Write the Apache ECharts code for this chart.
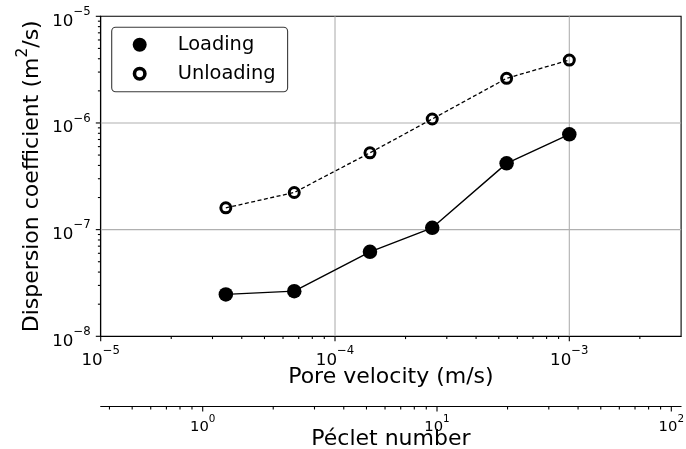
<!DOCTYPE html>
<html><head><meta charset="utf-8">
<script src="https://cdn.jsdelivr.net/npm/echarts@6/dist/echarts.min.js"></script>
<style>html,body{margin:0;padding:0;background:#fff}#c{width:686px;height:449px}</style>
</head><body><div id="c"></div>
<script>
// ---- data ----
const seriesNames = ['Loading', 'Unloading'];
const poreVelocity = [3.42e-5, 6.7e-5, 1.41e-4, 2.6e-4, 5.4e-4, 1.0e-3];   // m/s
const loading = [2.47e-8, 2.65e-8, 6.19e-8, 1.04e-7, 4.18e-7, 7.82e-7];     // m2/s
const unloading = [1.6e-7, 2.23e-7, 5.25e-7, 1.09e-6, 2.62e-6, 3.89e-6];    // m2/s
const velocityRange = [1e-5, 3e-3];
const dispersionRange = [1e-8, 1e-5];
const pecletPerVelocity = 36700;            // Péclet number per (m/s)
const velocityDecades = [1e-5, 1e-4, 1e-3];
const dispersionDecades = [1e-8, 1e-7, 1e-6, 1e-5];
const pecletDecades = [1, 10, 100];
const xTitle = 'Pore velocity (m/s)';
const yTitleParts = ['Dispersion coefficient (m', '2', '/s)'];
const pecletTitle = 'Péclet number';

const pecletRange = velocityRange.map(v => v * pecletPerVelocity);
const FONT = 'DejaVu Sans';
const TITLE_SIZE = 22;

function minorTicks(decades, lo, hi) {
  const out = [];
  [decades[0] / 10, ...decades].forEach(d => {
    for (let k = 2; k <= 9; k++) { const v = k * d; if (v > lo * 1.0001 && v < hi * 0.9999) out.push(v); }
  });
  return out;
}
function inside(vals, lo, hi) { return vals.filter(v => v >= lo * 0.9999 && v <= hi * 1.0001); }

function decadeLabel(v) {
  const l = Math.log10(v), e = Math.round(l);
  if (Math.abs(l - e) > 1e-6) return '';
  return '{b|10}{s|' + (e < 0 ? '\u2212' : '') + Math.abs(e) + '}';
}
function richFor(base, sup, baseLH, supLH) {
  return {
    b: {fontSize: base, fontFamily: FONT, color: '#000', lineHeight: baseLH, verticalAlign: 'bottom'},
    s: {fontSize: sup, fontFamily: FONT, color: '#000', lineHeight: supLH, verticalAlign: 'top'}
  };
}

const PE_OFFSET = 70.4;
function xTickSeries(xIdx, vals, len, off) {
  return {
    type: 'custom', xAxisIndex: xIdx, yAxisIndex: 0, silent: true, clip: false, z: 5,
    data: vals.map(v => [v, dispersionRange[0]]),
    renderItem: (params, api) => {
      const p = api.coord([api.value(0), api.value(1)]);
      return {type: 'line', shape: {x1: p[0], y1: p[1] + off, x2: p[0], y2: p[1] + off + len},
              style: {stroke: '#000', lineWidth: 1.1}};
    }
  };
}
function yTickSeries(vals, len) {
  return {
    type: 'custom', xAxisIndex: 0, yAxisIndex: 0, silent: true, clip: false, z: 5,
    data: vals.map(v => [velocityRange[0], v]),
    renderItem: (params, api) => {
      const p = api.coord([api.value(0), api.value(1)]);
      return {type: 'line', shape: {x1: p[0] - len, y1: p[1], x2: p[0], y2: p[1]},
              style: {stroke: '#000', lineWidth: 1.1}};
    }
  };
}
function gridSeries() {
  const vx = velocityDecades.filter(v => v > velocityRange[0] * 1.0001 && v < velocityRange[1] * 0.9999);
  const vy = dispersionDecades.filter(v => v > dispersionRange[0] * 1.0001 && v < dispersionRange[1] * 0.9999);
  const data = vx.map(v => [v, dispersionRange[0], 0]).concat(vy.map(v => [velocityRange[0], v, 1]));
  return {
    type: 'custom', xAxisIndex: 0, yAxisIndex: 0, silent: true, z: 1,
    data: data,
    renderItem: (params, api) => {
      const isY = api.value(2) === 1;
      let a, b;
      if (!isY) { a = api.coord([api.value(0), dispersionRange[0]]); b = api.coord([api.value(0), dispersionRange[1]]); }
      else { a = api.coord([velocityRange[0], api.value(1)]); b = api.coord([velocityRange[1], api.value(1)]); }
      return {type: 'line', shape: {x1: a[0], y1: a[1], x2: b[0], y2: b[1]}, style: {stroke: '#b0b0b0', lineWidth: 1.1}};
    }
  };
}

const ring = 'path://M13,6.5A6.5,6.5,0,1,1,0,6.5A6.5,6.5,0,1,1,13,6.5ZM9.7,6.5A3.2,3.2,0,1,0,3.3,6.5A3.2,3.2,0,1,0,9.7,6.5Z';

const chart = echarts.init(document.getElementById('c'), null, {renderer: 'canvas'});
chart.setOption({
  animation: false,
  backgroundColor: '#fff',
  textStyle: {fontFamily: FONT},
  grid: {left: 100.7, right: 4.9, top: 16.3, bottom: 112.7, show: true, borderColor: '#000', borderWidth: 1.1,
         containLabel: false, outerBoundsMode: 'none'},
  legend: {
    orient: 'vertical', left: 111.7, top: 27.3,
    padding: [8, 12, 8.5, 21], itemGap: 10, itemWidth: 14, itemHeight: 14,
    borderColor: '#3a3a3a', borderWidth: 1.1, borderRadius: 4, backgroundColor: '#fff',
    formatter: name => '{t|' + name + '}',
    textStyle: {rich: {t: {fontSize: 19.4, fontFamily: FONT, color: '#000', padding: [0, 0, 0, 26]}}},
    data: [
      {name: seriesNames[0], icon: 'circle', itemStyle: {color: '#000', borderWidth: 0}},
      {name: seriesNames[1], icon: ring, itemStyle: {color: '#000', borderWidth: 0}}
    ]
  },
  xAxis: [
    {
      type: 'log', gridIndex: 0, min: velocityRange[0], max: velocityRange[1], position: 'bottom',
      axisLine: {show: true, lineStyle: {color: '#000', width: 1.1}},
      axisTick: {show: false}, minorTick: {show: false}, splitLine: {show: false},
      axisLabel: {formatter: decadeLabel, margin: 8.4, rich: richFor(16.7, 11.7, 24, 16)},
      name: xTitle, nameLocation: 'middle', nameGap: 30, nameMoveOverlap: false,
      nameTextStyle: {fontSize: TITLE_SIZE, fontFamily: FONT, color: '#000'}
    },
    {
      type: 'log', gridIndex: 0, min: pecletRange[0], max: pecletRange[1], position: 'bottom', offset: PE_OFFSET,
      axisLine: {show: true, lineStyle: {color: '#000', width: 1.1}},
      axisTick: {show: false}, minorTick: {show: false}, splitLine: {show: false},
      axisLabel: {formatter: decadeLabel, margin: 8, rich: richFor(14.8, 10.4, 20, 13.4)},
      name: pecletTitle, nameLocation: 'middle', nameGap: 22, nameMoveOverlap: false,
      nameTextStyle: {fontSize: TITLE_SIZE, fontFamily: FONT, color: '#000'}
    }
  ],
  yAxis: [{
    type: 'log', gridIndex: 0, min: dispersionRange[0], max: dispersionRange[1],
    axisLine: {show: true, lineStyle: {color: '#000', width: 1.1}},
    axisTick: {show: false}, minorTick: {show: false}, splitLine: {show: false},
    axisLabel: {formatter: decadeLabel, margin: 10, padding: [3, 0, 0, 0], rich: richFor(16.7, 11.7, 24, 16)},
    name: '{n|' + yTitleParts[0] + '}{s|' + yTitleParts[1] + '}{n|' + yTitleParts[2] + '}',
    nameLocation: 'middle', nameGap: 57, nameMoveOverlap: false,
    nameTextStyle: {rich: {
      n: {fontSize: TITLE_SIZE, fontFamily: FONT, color: '#000', lineHeight: 28, verticalAlign: 'bottom'},
      s: {fontSize: 15.4, fontFamily: FONT, color: '#000', lineHeight: 17.4, verticalAlign: 'top'}
    }}
  }],
  series: [
    gridSeries(),
    xTickSeries(0, inside(velocityDecades, velocityRange[0], velocityRange[1]), 4.9, 0),
    xTickSeries(0, minorTicks(velocityDecades, velocityRange[0], velocityRange[1]), 2.8, 0),
    xTickSeries(1, inside(pecletDecades, pecletRange[0], pecletRange[1]), 4.9, PE_OFFSET),
    xTickSeries(1, minorTicks(pecletDecades, pecletRange[0], pecletRange[1]), 2.8, PE_OFFSET),
    yTickSeries(inside(dispersionDecades, dispersionRange[0], dispersionRange[1]), 4.9),
    yTickSeries(minorTicks(dispersionDecades, dispersionRange[0], dispersionRange[1]), 2.8),
    {
      name: seriesNames[0], type: 'line', xAxisIndex: 0, yAxisIndex: 0, z: 3,
      data: poreVelocity.map((v, i) => [v, loading[i]]),
      symbol: 'circle', symbolSize: 14.5, showSymbol: true,
      itemStyle: {color: '#000'}, lineStyle: {color: '#000', width: 1.4},
      emphasis: {disabled: true}
    },
    {
      name: seriesNames[1], type: 'line', xAxisIndex: 0, yAxisIndex: 0, z: 3,
      data: poreVelocity.map((v, i) => [v, unloading[i]]),
      symbol: 'circle', symbolSize: 10, showSymbol: true,
      itemStyle: {color: 'rgba(0,0,0,0)', borderColor: '#000', borderWidth: 3},
      lineStyle: {color: '#000', width: 1.3, type: [4, 2.5]},
      emphasis: {disabled: true}
    }
  ]
});
</script>
</body></html>
